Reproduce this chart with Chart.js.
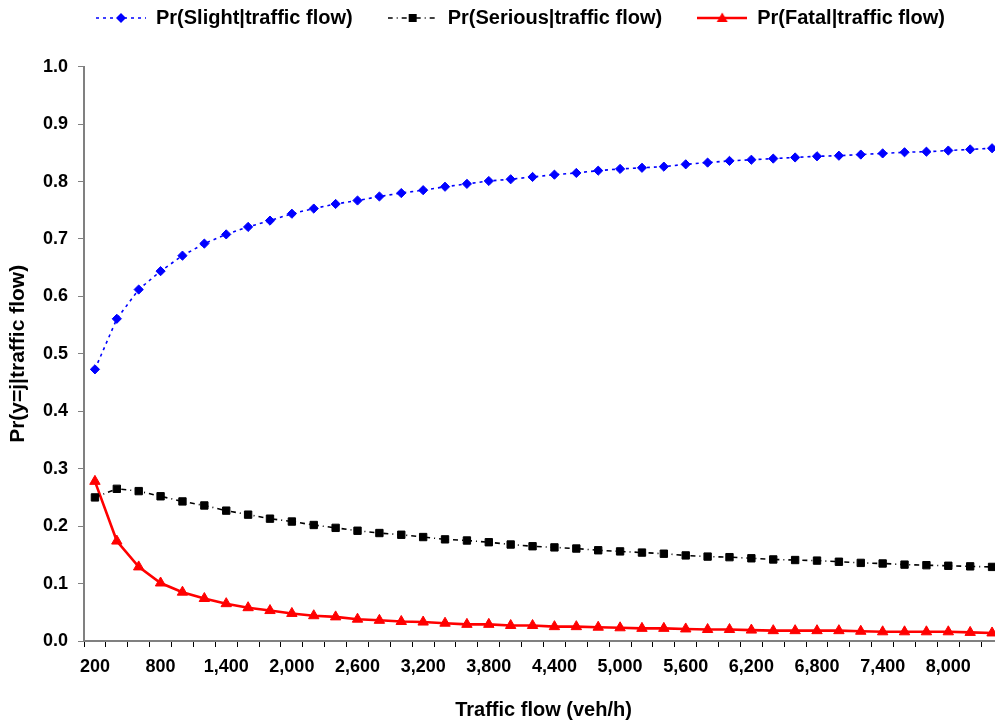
<!DOCTYPE html>
<html>
<head>
<meta charset="utf-8">
<script src="https://cdn.jsdelivr.net/npm/chart.js@4.4.1/dist/chart.umd.min.js"></script>
<style>
  html, body { margin: 0; padding: 0; background: #fff; overflow: hidden; }
  #wrap { width: 1010px; height: 727px; }
</style>
</head>
<body>
<div id="wrap"><canvas id="chart" width="1010" height="727"></canvas></div>
<script>
const flows = [200, 400, 600, 800, 1000, 1200, 1400, 1600, 1800, 2000, 2200, 2400, 2600, 2800,
  3000, 3200, 3400, 3600, 3800, 4000, 4200, 4400, 4600, 4800, 5000, 5200, 5400, 5600,
  5800, 6000, 6200, 6400, 6600, 6800, 7000, 7200, 7400, 7600, 7800, 8000, 8200, 8400];

const slight = [0.473, 0.561, 0.612, 0.644, 0.671, 0.692, 0.708, 0.721, 0.732, 0.744, 0.753, 0.761, 0.767, 0.774,
  0.780, 0.785, 0.791, 0.796, 0.801, 0.804, 0.808, 0.812, 0.815, 0.819, 0.822, 0.824, 0.826, 0.830,
  0.833, 0.836, 0.838, 0.840, 0.842, 0.844, 0.845, 0.847, 0.849, 0.851, 0.852, 0.854, 0.856, 0.858];

const serious = [0.250, 0.265, 0.261, 0.252, 0.243, 0.236, 0.227, 0.220, 0.213, 0.208, 0.202, 0.197, 0.192, 0.188,
  0.185, 0.181, 0.177, 0.175, 0.172, 0.168, 0.165, 0.163, 0.161, 0.158, 0.156, 0.154, 0.152, 0.149,
  0.147, 0.146, 0.144, 0.142, 0.141, 0.140, 0.138, 0.136, 0.135, 0.133, 0.132, 0.131, 0.130, 0.129];

const fatal = [0.278, 0.174, 0.129, 0.101, 0.085, 0.074, 0.065, 0.058, 0.053, 0.048, 0.044, 0.042, 0.038, 0.036,
  0.034, 0.033, 0.031, 0.029, 0.029, 0.027, 0.027, 0.025, 0.025, 0.024, 0.023, 0.022, 0.022, 0.021,
  0.020, 0.020, 0.019, 0.018, 0.018, 0.018, 0.018, 0.017, 0.016, 0.016, 0.016, 0.016, 0.015, 0.014];

const seriesNames = ['Pr(Slight|traffic flow)', 'Pr(Serious|traffic flow)', 'Pr(Fatal|traffic flow)'];
const yTicks = [0, 0.1, 0.2, 0.3, 0.4, 0.5, 0.6, 0.7, 0.8, 0.9, 1.0];

const FONT = '"Liberation Sans", Arial, sans-serif';
const AXIS_GREY = '#808080';

// small canvas with line + marker, used as legend swatch
function legendSwatch(color, dash, width, style) {
  const c = document.createElement('canvas');
  c.width = 50; c.height = 14;
  const g = c.getContext('2d');
  g.strokeStyle = color;
  g.lineWidth = width;
  g.setLineDash(dash);
  g.beginPath(); g.moveTo(0, 7); g.lineTo(50, 7); g.stroke();
  g.setLineDash([]);
  g.fillStyle = color;
  g.beginPath();
  if (style === 'rectRot') {
    g.moveTo(25, 2); g.lineTo(30, 7); g.lineTo(25, 12); g.lineTo(20, 7);
  } else if (style === 'rect') {
    g.rect(21, 3, 8, 8);
  } else {
    g.moveTo(25, 1.5); g.lineTo(30.5, 11); g.lineTo(19.5, 11);
  }
  g.closePath(); g.fill();
  return c;
}

const styles = [
  { color: '#0000FF', dash: [3, 4], width: 1.6, point: 'rectRot', radius: 4.6, data: slight },
  { color: '#000000', dash: [5, 4, 1, 4], width: 1.6, point: 'rect', radius: 5.2, data: serious },
  { color: '#FF0000', dash: [], width: 2.6, point: 'triangle', radius: 6, data: fatal }
];

const datasets = styles.map((s, i) => ({
  label: seriesNames[i],
  data: s.data,
  borderColor: s.color,
  backgroundColor: s.color,
  borderWidth: s.width,
  borderDash: s.dash,
  pointStyle: s.point,
  pointRadius: s.radius,
  pointHoverRadius: s.radius,
  pointBackgroundColor: s.color,
  pointBorderColor: s.color,
  pointBorderWidth: 1,
  tension: 0,
  fill: false
}));

const swatches = styles.map(s => legendSwatch(s.color, s.dash, s.width, s.point));

// nudge the legend a bit to the right, like the original
const legendShift = {
  id: 'legendShift',
  afterLayout(chart) {
    chart.legend.left += 19;
    chart.legend.right += 19;
  }
};

new Chart(document.getElementById('chart'), {
  type: 'line',
  data: { labels: flows, datasets },
  plugins: [legendShift],
  options: {
    responsive: false,
    animation: false,
    devicePixelRatio: 1,
    layout: { padding: { left: 0, right: 7, top: -27, bottom: 0 } },
    plugins: {
      tooltip: { enabled: false },
      legend: {
        position: 'top',
        labels: {
          usePointStyle: true,
          pointStyleWidth: 50,
          padding: 35,
          color: '#000',
          font: { family: FONT, size: 20, weight: 'bold' },
          generateLabels: (chart) => chart.data.datasets.map((d, i) => ({
            text: d.label,
            pointStyle: swatches[i],
            datasetIndex: i,
            hidden: false,
            fontColor: '#000'
          }))
        }
      },
      // empty spacer between legend and plot
      subtitle: {
        display: true,
        text: '',
        weight: 500,
        font: { size: 1 },
        padding: { top: 0, bottom: 27.5 }
      }
    },
    scales: {
      x: {
        type: 'category',
        offset: true,
        grid: {
          offset: true,
          drawOnChartArea: false,
          drawTicks: true,
          tickLength: 6,
          color: '#000'
        },
        border: { color: AXIS_GREY, width: 2 },
        ticks: {
          autoSkip: false,
          maxRotation: 0,
          padding: 9,
          color: '#000',
          font: { family: FONT, size: 18, weight: 'bold' },
          callback: function (v, i) {
            return i % 3 === 0 ? flows[i].toLocaleString('en-US') : '';
          }
        },
        title: {
          display: true,
          text: 'Traffic flow (veh/h)',
          color: '#000',
          font: { family: FONT, size: 20, weight: 'bold' },
          padding: { top: 0, bottom: 5 }
        },
        afterFit: (scale) => { scale.height = 86; }
      },
      y: {
        min: 0,
        max: 1,
        afterBuildTicks: (scale) => { scale.ticks = yTicks.map(v => ({ value: v })); },
        grid: {
          drawOnChartArea: false,
          drawTicks: true,
          tickLength: 6,
          color: AXIS_GREY
        },
        border: { color: AXIS_GREY, width: 2 },
        ticks: {
          padding: 10,
          color: '#000',
          font: { family: FONT, size: 18, weight: 'bold' },
          callback: (v) => Number(v).toFixed(1)
        },
        title: {
          display: true,
          text: 'Pr(y=j|traffic flow)',
          color: '#000',
          font: { family: FONT, size: 21, weight: 'bold' },
          padding: { top: 6, bottom: 0 }
        },
        afterFit: (scale) => { scale.width = 84; }
      }
    }
  }
});
</script>
</body>
</html>
